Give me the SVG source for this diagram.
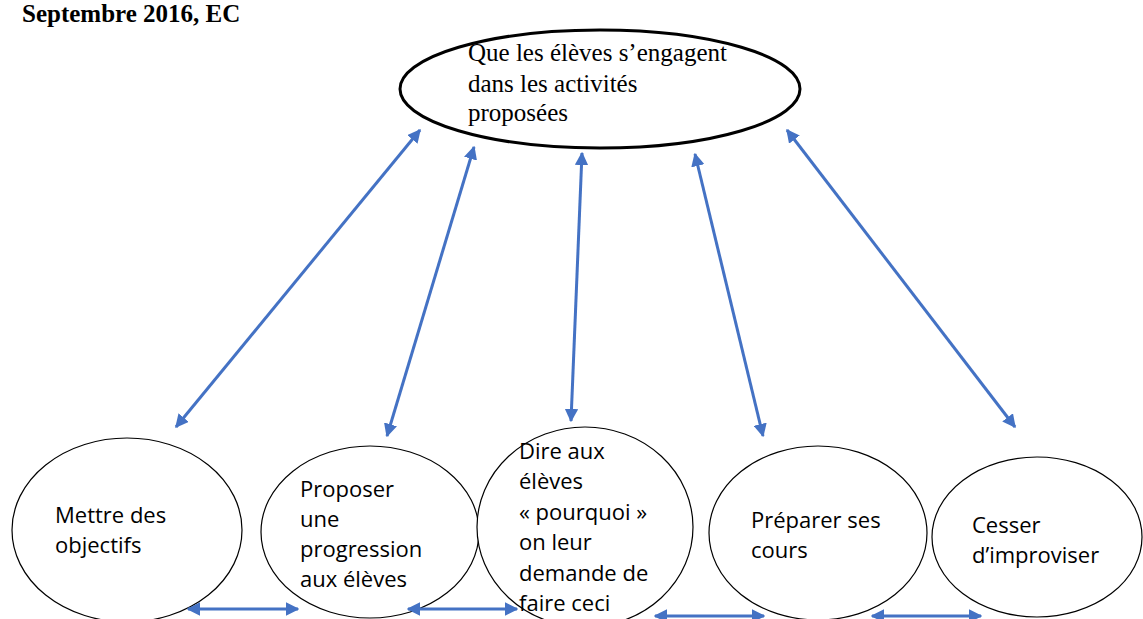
<svg xmlns="http://www.w3.org/2000/svg" width="1143" height="619" viewBox="0 0 1143 619">
  <defs>
    <marker id="ah" viewBox="0 0 10 10" refX="9" refY="5" markerWidth="4.5" markerHeight="4.5" orient="auto-start-reverse">
      <path d="M0,0 L10,5 L0,10 z" fill="#4472C4"/>
    </marker>
    <style>
      .title { font-family: "Liberation Serif", serif; font-weight: bold; font-size: 25px; fill: #000; }
      .top { font-family: "Liberation Serif", serif; font-size: 25px; fill: #000; }
      .lbl { font-family: "Open Sans", "Liberation Sans", sans-serif; font-size: 22px; fill: #000; }
      .main { fill: #fff; stroke: #000; stroke-width: 3; }
      .node { fill: #fff; stroke: #000; stroke-width: 1.2; }
      .con { stroke: #4472C4; stroke-width: 3; fill: none; marker-start: url(#ah); marker-end: url(#ah); }
    </style>
  </defs>
  <rect width="1143" height="619" fill="#fff"/>
  <text class="title" x="22" y="22">Septembre 2016, EC</text>

  <g id="n-main">
    <ellipse class="main" cx="600" cy="89" rx="200" ry="59"/>
    <text class="top" x="468" y="61">Que les élèves s’engagent</text>
    <text class="top" x="468" y="92">dans les activités</text>
    <text class="top" x="468" y="121">proposées</text>
  </g>

  <g id="n-objectifs">
    <ellipse class="node" cx="127" cy="530" rx="115" ry="92"/>
    <text class="lbl" x="55" y="523">Mettre des</text>
    <text class="lbl" x="55" y="553">objectifs</text>
  </g>

  <g id="n-progression">
    <ellipse class="node" cx="370" cy="532" rx="109" ry="86"/>
    <text class="lbl" x="300" y="497">Proposer</text>
    <text class="lbl" x="300" y="527">une</text>
    <text class="lbl" x="300" y="557">progression</text>
    <text class="lbl" x="300" y="587">aux élèves</text>
  </g>

  <g id="n-pourquoi">
    <ellipse class="node" cx="585" cy="527" rx="108" ry="100"/>
    <text class="lbl" x="519" y="459">Dire aux</text>
    <text class="lbl" x="519" y="489">élèves</text>
    <text class="lbl" x="519" y="520">« pourquoi »</text>
    <text class="lbl" x="519" y="550">on leur</text>
    <text class="lbl" x="519" y="581">demande de</text>
    <text class="lbl" x="519" y="611">faire ceci</text>
  </g>

  <g id="n-preparer">
    <ellipse class="node" cx="818" cy="533" rx="109" ry="87"/>
    <text class="lbl" x="751" y="528">Préparer ses</text>
    <text class="lbl" x="751" y="558">cours</text>
  </g>

  <g id="n-improviser">
    <ellipse class="node" cx="1037" cy="537" rx="105" ry="80"/>
    <text class="lbl" x="972" y="533">Cesser</text>
    <text class="lbl" x="972" y="563">d’improviser</text>
  </g>

  <g id="connectors">
    <line class="con" x1="420" y1="130" x2="176" y2="427"/>
    <line class="con" x1="474" y1="147" x2="387" y2="436"/>
    <line class="con" x1="582" y1="153" x2="571" y2="421"/>
    <line class="con" x1="695" y1="154" x2="763" y2="436"/>
    <line class="con" x1="787" y1="130" x2="1015" y2="427"/>
    <line class="con" x1="188" y1="609" x2="298" y2="609"/>
    <line class="con" x1="408" y1="609" x2="517" y2="609"/>
    <line class="con" x1="655" y1="616" x2="764" y2="616"/>
    <line class="con" x1="872" y1="616" x2="981" y2="616"/>
  </g>
</svg>
